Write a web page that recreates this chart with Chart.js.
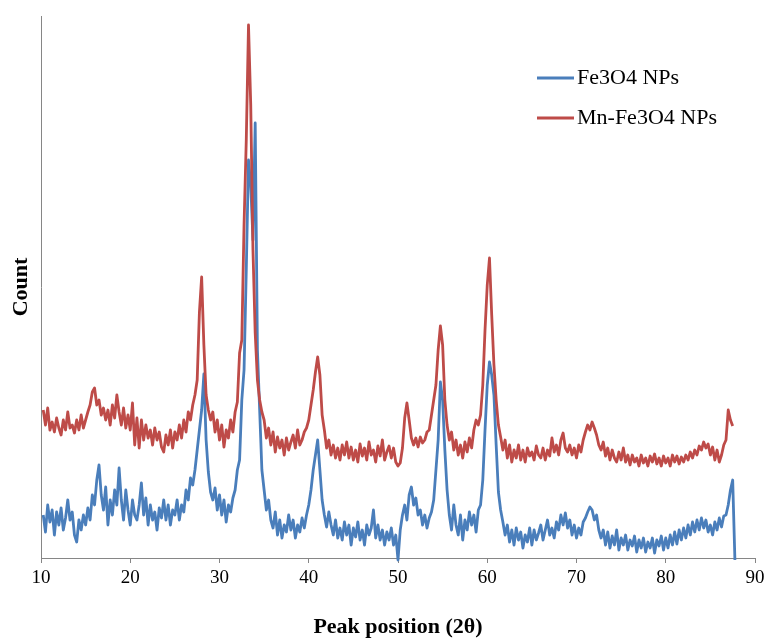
<!DOCTYPE html>
<html>
<head>
<meta charset="utf-8">
<script src="https://cdn.jsdelivr.net/npm/chart.js"></script>
<style>
  html, body { margin: 0; padding: 0; background: #fff; }
  #wrap { width: 766px; height: 641px; }
</style>
</head>
<body>
<div id="wrap"><canvas id="xrd"></canvas></div>
<script>
// 2θ positions (degrees)
const twoTheta = [
  10.25, 10.5, 10.75, 11, 11.25, 11.5, 11.75, 12,
  12.25, 12.5, 12.75, 13, 13.25, 13.5, 13.75, 14,
  14.25, 14.5, 14.75, 15, 15.25, 15.5, 15.75, 16,
  16.25, 16.5, 16.75, 17, 17.25, 17.5, 17.75, 18,
  18.25, 18.5, 18.75, 19, 19.25, 19.5, 19.75, 20,
  20.25, 20.5, 20.75, 21, 21.25, 21.5, 21.75, 22,
  22.25, 22.5, 22.75, 23, 23.25, 23.5, 23.75, 24,
  24.25, 24.5, 24.75, 25, 25.25, 25.5, 25.75, 26,
  26.25, 26.5, 26.75, 27, 27.25, 27.5, 27.75, 28,
  28.25, 28.5, 28.75, 29, 29.25, 29.5, 29.75, 30,
  30.25, 30.5, 30.75, 31, 31.25, 31.5, 31.75, 32,
  32.25, 32.5, 32.75, 33, 33.25, 33.5, 33.75, 34,
  34.25, 34.5, 34.75, 35, 35.25, 35.5, 35.75, 36,
  36.25, 36.5, 36.75, 37, 37.25, 37.5, 37.75, 38,
  38.25, 38.5, 38.75, 39, 39.25, 39.5, 39.75, 40,
  40.25, 40.5, 40.75, 41, 41.25, 41.5, 41.75, 42,
  42.25, 42.5, 42.75, 43, 43.25, 43.5, 43.75, 44,
  44.25, 44.5, 44.75, 45, 45.25, 45.5, 45.75, 46,
  46.25, 46.5, 46.75, 47, 47.25, 47.5, 47.75, 48,
  48.25, 48.5, 48.75, 49, 49.25, 49.5, 49.75, 50,
  50.25, 50.5, 50.75, 51, 51.25, 51.5, 51.75, 52,
  52.25, 52.5, 52.75, 53, 53.25, 53.5, 53.75, 54,
  54.25, 54.5, 54.75, 55, 55.25, 55.5, 55.75, 56,
  56.25, 56.5, 56.75, 57, 57.25, 57.5, 57.75, 58,
  58.25, 58.5, 58.75, 59, 59.25, 59.5, 59.75, 60,
  60.25, 60.5, 60.75, 61, 61.25, 61.5, 61.75, 62,
  62.25, 62.5, 62.75, 63, 63.25, 63.5, 63.75, 64,
  64.25, 64.5, 64.75, 65, 65.25, 65.5, 65.75, 66,
  66.25, 66.5, 66.75, 67, 67.25, 67.5, 67.75, 68,
  68.25, 68.5, 68.75, 69, 69.25, 69.5, 69.75, 70,
  70.25, 70.5, 70.75, 71, 71.25, 71.5, 71.75, 72,
  72.25, 72.5, 72.75, 73, 73.25, 73.5, 73.75, 74,
  74.25, 74.5, 74.75, 75, 75.25, 75.5, 75.75, 76,
  76.25, 76.5, 76.75, 77, 77.25, 77.5, 77.75, 78,
  78.25, 78.5, 78.75, 79, 79.25, 79.5, 79.75, 80,
  80.25, 80.5, 80.75, 81, 81.25, 81.5, 81.75, 82,
  82.25, 82.5, 82.75, 83, 83.25, 83.5, 83.75, 84,
  84.25, 84.5, 84.75, 85, 85.25, 85.5, 85.75, 86,
  86.25, 86.5, 86.75, 87, 87.25, 87.5, 87.75
];

// Fe3O4 NPs counts (arbitrary units)
const fe3o4 = [
  43, 26, 53, 36, 48, 23, 46, 33,
  50, 28, 40, 58, 38, 46, 23, 16,
  38, 28, 43, 33, 50, 38, 63, 53,
  78, 93, 63, 48, 71, 33, 58, 43,
  68, 53, 90, 58, 38, 68, 48, 33,
  58, 43, 38, 53, 75, 43, 60, 33,
  53, 38, 46, 28, 50, 40, 58, 38,
  53, 33, 48, 43, 58, 38, 53, 46,
  68, 58, 80, 73, 88, 108, 128, 148,
  184, 118, 86, 66, 58, 70, 48, 63,
  43, 58, 36, 53, 46, 60, 68, 88,
  98, 158, 188, 288, 398, 373, 318, 435,
  208, 148, 88, 68, 48, 58, 38, 30,
  46, 23, 38, 20, 33, 26, 43, 28,
  38, 20, 33, 26, 40, 30, 43, 53,
  68, 88, 103, 118, 88, 58, 43, 31,
  46, 33, 23, 38, 20, 30, 18, 36,
  23, 33, 13, 30, 21, 36, 18, 28,
  13, 33, 23, 30, 48, 20, 33, 18,
  28, 13, 26, 18, 30, 13, 23, -2,
  28, 43, 53, 38, 63, 71, 53, 60,
  43, 48, 33, 43, 30, 40, 46, 58,
  88, 118, 176, 158, 108, 68, 43, 28,
  53, 33, 23, 43, 18, 38, 28, 46,
  33, 43, 26, 48, 53, 78, 128, 173,
  196, 183, 163, 113, 66, 48, 36, 23,
  33, 16, 28, 13, 30, 18, 26, 10,
  23, 16, 30, 13, 28, 18, 25, 33,
  18, 28, 38, 23, 30, 20, 36, 28,
  43, 33, 45, 30, 38, 23, 33, 20,
  30, 23, 36, 40, 46, 51, 48, 38,
  43, 28, 20, 28, 13, 26, 10, 22,
  13, 28, 8, 20, 13, 23, 8, 18,
  12, 22, 6, 18, 10, 20, 6, 16,
  10, 20, 5, 18, 12, 22, 8, 20,
  10, 23, 13, 26, 14, 28, 18, 30,
  20, 33, 23, 36, 26, 38, 28, 40,
  30, 38, 26, 33, 23, 36, 28, 40,
  31, 42, 43, 53, 68, 78, -2
];

// Mn-Fe3O4 NPs counts (arbitrary units)
const mnFe3o4 = [
  148, 133, 150, 128, 136, 126, 140, 130,
  123, 138, 128, 146, 130, 133, 125, 138,
  128, 143, 130, 138, 146, 153, 166, 170,
  153, 158, 143, 150, 138, 148, 133, 153,
  140, 163, 146, 133, 150, 130, 143, 128,
  155, 113, 140, 110, 138, 118, 133, 120,
  128, 113, 130, 118, 126, 111, 106, 123,
  113, 128, 110, 126, 118, 133, 120, 138,
  126, 146, 138, 153, 163, 178, 246, 281,
  213, 163, 148, 138, 146, 126, 138, 118,
  133, 111, 128, 120, 138, 126, 146, 156,
  205, 218, 333, 418, 533, 453, 308, 225,
  178, 158, 146, 138, 120, 130, 113, 126,
  106, 121, 110, 118, 103, 120, 108, 116,
  123, 110, 128, 113, 118, 126, 130, 138,
  153, 168, 186, 201, 183, 143, 128, 110,
  118, 103, 113, 100, 110, 98, 113, 103,
  116, 100, 111, 98, 108, 96, 114, 102,
  110, 98, 116, 103, 108, 96, 112, 102,
  118, 98, 106, 112, 100, 110, 96, 92,
  95, 110, 140, 155, 138, 120, 113, 120,
  111, 121, 115, 118, 126, 128, 143, 158,
  173, 208, 232, 213, 158, 133, 118, 126,
  108, 118, 103, 113, 100, 116, 106, 120,
  110, 128, 138, 133, 143, 173, 228, 273,
  300, 243, 193, 158, 133, 121, 108, 118,
  100, 113, 96, 108, 100, 113, 98, 108,
  96, 110, 102, 106, 98, 112, 103, 100,
  110, 98, 108, 102, 120, 106, 113, 103,
  118, 125, 110, 106, 113, 103, 110, 100,
  113, 106, 118, 126, 133, 128, 136, 130,
  123, 113, 108, 116, 102, 110, 98, 108,
  100, 96, 106, 98, 110, 96, 103, 93,
  103, 96, 100, 92, 103, 95, 100, 92,
  102, 96, 104, 94, 100, 92, 102, 95,
  100, 92, 103, 96, 102, 94, 101, 96,
  103, 98, 106, 100, 108, 103, 112, 108,
  116, 110, 114, 103, 111, 98, 108, 96,
  103, 113, 118, 148, 138, 132, null
];

const xTicks = [10, 20, 30, 40, 50, 60, 70, 80, 90];
const seriesNames = ['Fe3O4 NPs', 'Mn-Fe3O4 NPs'];

const BLUE = '#4a7ebb';
const RED = '#be4b48';
const AXIS = '#868686';
const SERIF = "'Liberation Serif', 'Times New Roman', serif";

function toPoints(values) {
  return twoTheta
    .map((x, i) => ({x: x, y: values[i]}))
    .filter(p => p.y !== null);
}

// legend drawn inside the plot, top right
const insideLegend = {
  id: 'insideLegend',
  afterDraw(chart) {
    const {ctx, chartArea} = chart;
    const x0 = chartArea.left + 496;
    ctx.save();
    ctx.font = '22px ' + SERIF;
    ctx.textBaseline = 'middle';
    ctx.textAlign = 'left';
    [BLUE, RED].forEach((color, i) => {
      const y = chartArea.top + 62 + i * 40;
      ctx.strokeStyle = color;
      ctx.lineWidth = 3;
      ctx.beginPath();
      ctx.moveTo(x0, y);
      ctx.lineTo(x0 + 37, y);
      ctx.stroke();
      ctx.fillStyle = '#000';
      ctx.fillText(seriesNames[i], x0 + 40, y + 0.5);
    });
    ctx.restore();
  }
};

new Chart(document.getElementById('xrd'), {
  type: 'line',
  data: {
    datasets: [
      {
        label: seriesNames[0],
        data: toPoints(fe3o4),
        borderColor: BLUE,
        borderWidth: 2.8,
        pointRadius: 0,
        tension: 0,
        borderJoinStyle: 'round',
        clip: false,
        order: 1
      },
      {
        label: seriesNames[1],
        data: toPoints(mnFe3o4),
        borderColor: RED,
        borderWidth: 2.8,
        pointRadius: 0,
        tension: 0,
        borderJoinStyle: 'round',
        clip: false,
        order: 0
      }
    ]
  },
  options: {
    responsive: true,
    maintainAspectRatio: false,
    animation: false,
    layout: {autoPadding: false, padding: {top: 16, right: 11, left: 0, bottom: 0}},
    plugins: {
      legend: {display: false},
      tooltip: {enabled: false}
    },
    scales: {
      x: {
        type: 'linear',
        min: 10,
        max: 90,
        afterBuildTicks: s => { s.ticks = xTicks.map(v => ({value: v})); },
        afterFit: s => { s.height = 83; },
        grid: {drawOnChartArea: false, drawTicks: true, tickLength: 5, color: AXIS},
        border: {color: AXIS, width: 1},
        ticks: {
          color: '#000',
          padding: 0,
          maxRotation: 0,
          font: {family: SERIF, size: 19, lineHeight: 1.6}
        },
        title: {
          display: true,
          text: 'Peak position (2θ)',
          color: '#000',
          padding: {top: 0, bottom: 0},
          font: {family: SERIF, size: 22, weight: 'bold'}
        }
      },
      y: {
        min: 0,
        max: 542,
        afterFit: s => { s.width = 41; },
        grid: {drawOnChartArea: false, drawTicks: false},
        border: {color: AXIS, width: 1},
        ticks: {display: false},
        title: {
          display: true,
          text: 'Count',
          color: '#000',
          padding: {top: 8, bottom: 0},
          font: {family: SERIF, size: 22, weight: 'bold'}
        }
      }
    }
  },
  plugins: [insideLegend]
});
</script>
</body>
</html>
